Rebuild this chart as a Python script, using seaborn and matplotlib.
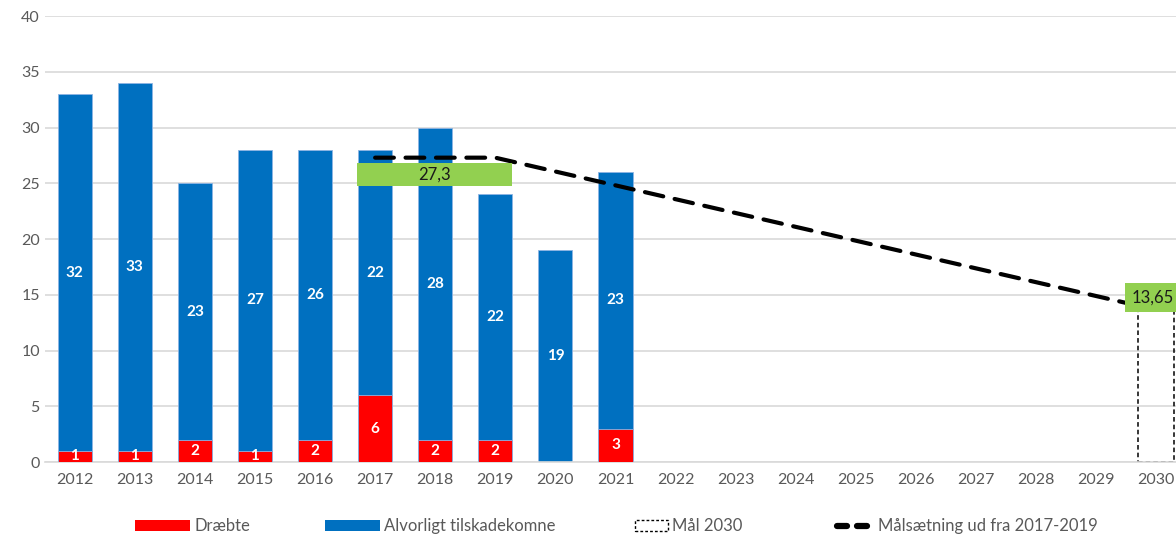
import matplotlib
matplotlib.use("Agg")
import matplotlib.pyplot as plt
from matplotlib.patches import Patch, Rectangle
from matplotlib.lines import Line2D
import pandas as pd
import seaborn as sns

# data
years = [str(y) for y in range(2012, 2031)]
bar_years = ["2012", "2013", "2014", "2015", "2016", "2017", "2018", "2019", "2020", "2021"]
draebte = [1, 1, 2, 1, 2, 6, 2, 2, 0, 3]
alvorligt = [32, 33, 23, 27, 26, 22, 28, 22, 19, 23]
maal_years = ["2017", "2019", "2030"]
maal_values = [27.3, 27.3, 13.65]
maal_2030 = 13.65

RED = "#FF0000"
BLUE = "#0070C0"
GREEN = "#92D050"
GREY = "#595959"

sns.set_theme(style="white")
plt.rcParams["font.family"] = ["Lato", "DejaVu Sans"]

df = pd.DataFrame({"year": bar_years, "draebte": draebte, "alvorligt": alvorligt})
df["total"] = df["draebte"] + df["alvorligt"]

fig = plt.figure(figsize=(11.76, 5.36), dpi=100)
ax = fig.add_axes([0.038, 0.138, 0.962, 0.832])

# stacked bars: total in blue, killed in red on top of it
sns.barplot(data=df, x="year", y="total", order=years, color=BLUE,
            width=0.57, saturation=1, ax=ax, zorder=2,
            edgecolor="#8EB4E3", linewidth=0.6)
sns.barplot(data=df, x="year", y="draebte", order=years, color=RED,
            width=0.57, saturation=1, ax=ax, zorder=3,
            edgecolor="#8EB4E3", linewidth=0.6)

# segment labels
for i, row in df.iterrows():
    pos = years.index(row["year"])
    ax.text(pos, row["draebte"] + row["alvorligt"] / 2, str(row["alvorligt"]),
            ha="center", va="center", color="white", fontsize=11,
            fontweight="bold", zorder=5)
    if row["draebte"] > 0:
        ax.text(pos, row["draebte"] / 2, str(row["draebte"]),
                ha="center", va="center", color="white", fontsize=11,
                fontweight="bold", zorder=5)

# Mål 2030 (dashed outline bar)
x30 = years.index("2030")
ax.bar(x30, maal_2030, width=0.6, fill=False, edgecolor="black",
       linestyle=(0, (3, 2)), linewidth=1.1, zorder=2)

# Målsætning line
xs = [years.index(y) for y in maal_years]
ax.plot(xs, maal_values, color="black", linewidth=3,
        linestyle=(0, (4.5, 2.8)), dash_capstyle="round", zorder=4)

# green value boxes
x17, x19 = years.index("2017"), years.index("2019")
ax.add_patch(Rectangle((x17 - 0.3, 24.75), (x19 - x17) + 0.57, 2.05,
                       facecolor=GREEN, edgecolor="none", zorder=6))
ax.text((x17 + x19) / 2 - 0.02, 25.8, "27,3", ha="center", va="center",
        fontsize=12, color="#1a1a1a", zorder=7)
ax.text(x30 - 0.05, maal_2030 + 1.1, "13,65", ha="center", va="center",
        fontsize=12, color="#1a1a1a", zorder=6,
        bbox=dict(boxstyle="square,pad=0.4", facecolor=GREEN, edgecolor="none"))

ax.set_xlim(-0.5, 18.33)
ax.set_ylim(0, 40)
ax.set_yticks(range(0, 41, 5))
ax.yaxis.grid(True, color="#D9D9D9", linewidth=1.2, zorder=0)
ax.set_axisbelow(True)
ax.set_xlabel("")
ax.set_ylabel("")
for s in ["top", "right", "left"]:
    ax.spines[s].set_visible(False)
ax.spines["bottom"].set_color("#D9D9D9")
ax.spines["bottom"].set_linewidth(1.2)
ax.tick_params(axis="both", colors=GREY, labelsize=11.5, length=0)
ax.tick_params(axis="x", pad=8)

# legend: one entry each, placed like the original
entries = [
    (Patch(facecolor=RED, edgecolor="none"), "Dræbte", 135, 3.3),
    (Patch(facecolor=BLUE, edgecolor="none"), "Alvorligt tilskadekomne", 325, 3.3),
    (Patch(facecolor="white", edgecolor="black", linestyle=(0, (2, 1.5)), linewidth=1),
     "Mål 2030", 635, 2.0),
    (Line2D([0], [0], color="black", linewidth=4.5, linestyle=(0, (1.6, 1.6)),
            dash_capstyle="round"), "Målsætning ud fra 2017-2019", 837, 2.2),
]
for handle, label, xpx, hl in entries:
    leg = fig.legend([handle], [label], loc="center left",
                     bbox_to_anchor=(xpx / 1176, 0.018), frameon=False,
                     fontsize=12, handlelength=hl, handletextpad=0.25,
                     borderpad=0, borderaxespad=0)
    for t in leg.get_texts():
        t.set_color(GREY)

fig.savefig("out.png", dpi=100)
